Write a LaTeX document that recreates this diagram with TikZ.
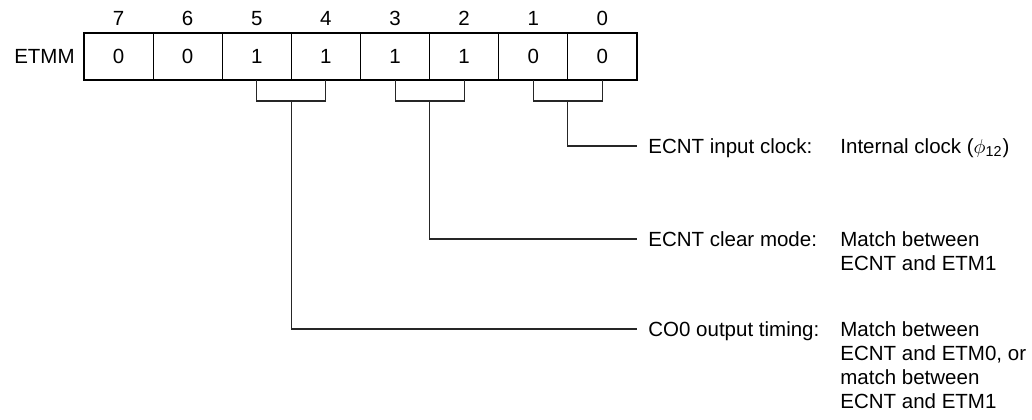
\documentclass[tikz,border=0pt]{standalone}
\usepackage{fontspec}
\setmainfont{Liberation Sans}
\usetikzlibrary{calc}

\begin{document}
\begin{tikzpicture}[x=0.5pt, y=-0.5pt,
  cellfont/.style={font=\fontsize{10.25}{12}\selectfont},
  wire/.style={draw=black!85, line width=0.55pt},
  fieldname/.style={cellfont, anchor=west, inner xsep=5.5pt, inner ysep=0pt, text height=7.34pt, text depth=0pt},
  fieldval/.style={cellfont, anchor=base west, inner sep=0pt}]
  \def\xl{84}
  \def\cw{69.125}
  \def\yt{33}
  \def\yb{80}
  \def\hk{21}
  \useasboundingbox (0,0) rectangle (1032,419);
  \node[cellfont, anchor=east, inner sep=0pt] (regname) at (75,56) {ETMM};
  \foreach \b/\v [count=\i from 0] in {7/0,6/0,5/1,4/1,3/1,2/1,1/0,0/0} {
    \pgfmathsetmacro{\xc}{\xl+(\i+0.5)*\cw}
    \node[cellfont] (num\b) at (\xc,18.5) {\b};
    \node[cellfont] (bit\b) at (\xc,56) {\v};
    \coordinate (top\b) at (\xc,\yb);
  }
  \foreach \i in {1,...,7} {
    \pgfmathsetmacro{\xd}{\xl+\i*\cw}
    \draw[line width=0.5pt] (\xd,\yt) -- (\xd,\yb);
  }
  \draw[line width=1.3pt] (\xl,\yt) rectangle ({\xl+8*\cw},\yb);
  \foreach \hi/\lo in {5/4,3/2,1/0} {
    \draw[wire] (top\hi) -- ++(0,\hk) -| (top\lo);
    \coordinate (mid\hi\lo) at ($(top\hi)!0.5!(top\lo)+(0,\hk)$);
  }
  \coordinate (valcol) at (840,0);
  \node[fieldname] (clkname) at (637,146) {ECNT input clock:};
  \node[fieldname] (clrname) at (637,239) {ECNT clear mode:};
  \node[fieldname] (coname) at (637,329) {CO0 output timing:};
  \node[fieldval] (clkval) at (clkname.base -| valcol) {Internal clock ($\phi$\textsubscript{12})};
  \node[fieldval] (clrval) at (clrname.base -| valcol)
    {\begin{tabular}[t]{@{}l@{}}Match between\\ECNT and ETM1\end{tabular}};
  \node[fieldval] (coval) at (coname.base -| valcol)
    {\begin{tabular}[t]{@{}l@{}}Match between\\ECNT and ETM0, or\\match between\\ECNT and ETM1\end{tabular}};
  \draw[wire] (mid10) |- (clkname.west);
  \draw[wire] (mid32) |- (clrname.west);
  \draw[wire] (mid54) |- (coname.west);
\end{tikzpicture}
\end{document}
